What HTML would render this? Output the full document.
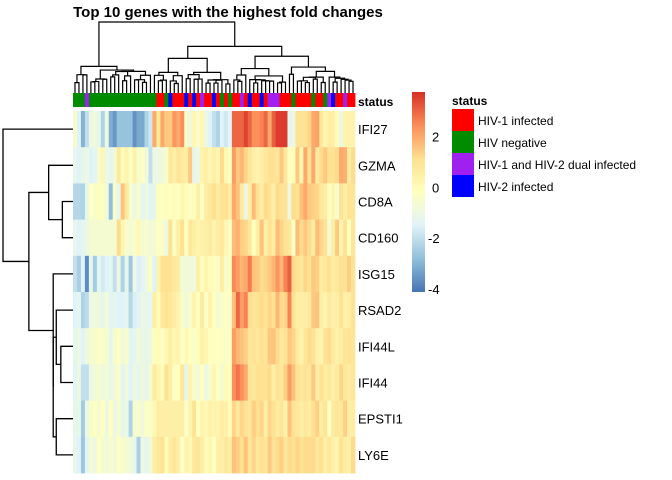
<!DOCTYPE html>
<html><head><meta charset="utf-8"><style>
body{margin:0;background:#fff;}
svg{display:block;font-family:"Liberation Sans",Arial,sans-serif;}
</style></head><body>
<svg id="chart" width="672" height="480" viewBox="0 0 672 480">
<text x="228" y="17" text-anchor="middle" font-size="15" font-weight="bold">Top 10 genes with the highest fold changes</text>
<g id="coldend"></g>
<g id="rowdend"></g>
<g id="status"></g>
<g id="cells"></g>
<g id="rlabels"></g>
<text x="358" y="106" font-size="12" font-weight="bold">status</text>
<defs><linearGradient id="cg" x1="0" y1="1" x2="0" y2="0">
<stop offset="0" stop-color="#4575B4"/><stop offset="0.1667" stop-color="#91BFDB"/><stop offset="0.3333" stop-color="#E0F3F8"/><stop offset="0.5" stop-color="#FFFFBF"/><stop offset="0.6667" stop-color="#FEE090"/><stop offset="0.8333" stop-color="#FC8D59"/><stop offset="1" stop-color="#D73027"/></linearGradient></defs>
<rect x="412" y="92" width="13" height="200" fill="url(#cg)"/>
<g id="cticks"></g>
<text x="452" y="105" font-size="12" font-weight="bold">status</text>
<g id="legend"></g>
</svg>
<script>
const genes=["IFI27","GZMA","CD8A","CD160","ISG15","RSAD2","IFI44L","IFI44","EPSTI1","LY6E"];
const statusCodes="NNNPNNNNNNNNNNNNNNNNNRRNBRRRBRBRPRRBRNRNRRPRBRRBRPPPRRRNRRRRNRRNPBRRPRR".split("");
const statusNames={R:"HIV-1 infected",N:"HIV negative",P:"HIV-1 and HIV-2 dual infected",B:"HIV-2 infected"};
const statusColors={R:"#FF0000",N:"#008B00",P:"#A020F0",B:"#0000FF"};
const legendOrder=["R","N","P","B"];
const colorTicks=[2,0,-2,-4];
const rowIFI27=[-0.5,-1.5,-3,-2,-1,-0.8,-1.2,-2.3,-1,-3.1,-3.5,-2.7,-2.7,-2.7,-2.7,-3.6,-3.2,-3.2,-2.3,-1.8,2,0.8,2,1.5,1.5,2.3,2,2.4,-0.5,-0.8,0.2,-0.4,0.1,-1,-1.5,-2,-2.3,-1.5,-1.8,-1.4,3,3,3,3.5,3,2.4,2.4,2.6,3,2,3.1,3.6,3.6,3.6,-1.3,-1,1,1,1,1.3,2,2.1,0.8,0.3,0.5,0.4,0,-1,0.3,0.3,0.3];
const rowGZMA=[-1.2,-1.5,-1.2,-1,-1.5,-1.3,-0.6,0.2,-1,-1.3,-0.8,0.8,0,0.3,-0.3,0.4,-0.5,-0.3,-0.8,-2,-1,-1,-0.8,-0.5,0.8,0.5,0.9,0.7,0.6,1.5,-1.2,-1,0.3,0.5,0.2,0.5,0.2,1.2,0.1,-0.2,2.2,1.5,1.8,1.3,0.9,0.5,0.3,0.5,0.8,1,1.1,0.9,1.5,0.8,-0.2,-0.1,1.5,0.2,2,1,2,0.7,1.2,1.5,1,1.1,1.2,2,1.9,0.6,1.2];
const rowCD8A=[-2.2,-2.2,-2.3,-1.2,-0.3,-0.5,-0.1,-0.3,-0.8,-2.8,-0.5,-1.2,1.6,0.8,-0.5,-1,-0.5,-1.3,-1,-1.4,-1.2,-0.1,-0.3,-0.1,-0.2,0,-0.2,0.2,0,-0.3,-0.1,0.5,-0.3,0.6,0.8,1.1,0.7,1,1,0.6,2,1.6,0.7,-1,0.5,1.7,1,0.5,1.2,1,0.5,1.2,1,1,-0.9,1.2,1,1.6,2,1.5,1.4,1.3,0.8,0.6,-0.2,0.2,-0.5,1,0.5,1,0.9];
const rowCD160=[-1.2,-1.5,-1.3,-1,-0.6,-0.6,-0.6,-0.6,-0.6,-0.6,-0.6,1.2,0.2,-0.5,-0.7,-0.4,0.1,-0.6,-0.5,-0.8,-0.6,-0.3,-0.4,-0.9,1,-0.3,0.5,1.1,-0.2,0.8,0.5,0.3,0.4,0.5,0.7,0.3,0.6,0.8,0.2,-0.3,1.7,1.9,1.4,1.3,0.8,-0.2,0.5,1.6,0.5,1,0.6,1.7,1.3,1,0.8,-0.3,1.7,1.2,1.5,1.2,0.6,1.7,1.3,1,-0.7,0.5,1.5,0.3,1,-0.2,0.9];
const rowISG15=[-2,-2.4,-1.5,-3.7,-1.2,-2.5,-1.3,-1.7,-1.5,-1.3,-2,-1,-2.3,-1.2,-2.6,-1,-1.6,-1.4,-1,-0.3,-1.5,0.3,1,1,1,0.8,0.6,-0.7,-0.8,-0.8,-0.8,0.5,-0.1,0.3,0,-0.1,-0.4,0.6,-0.5,-0.2,2.5,2.2,1.8,2,2.7,1.6,1.5,1.2,1.3,1.5,1.8,2.3,1.8,2.6,3.1,1.2,1,0.8,1.3,1,1.5,1.4,0.6,0.8,1.1,0.6,0.8,1.1,1,1.4,1];
const rowRSAD2=[-1.5,-1.3,-2.3,-2.1,-1,-0.8,-0.9,-1.2,-0.7,-1.4,-1.2,-1.5,-1.5,-1.3,-2.2,-1.6,-1.4,-1,-1.2,-1.3,0.5,0,0.8,1,0.8,0.6,0.3,-0.5,-0.8,-0.4,0.3,-0.2,0.7,-0.3,0.3,-0.2,-0.6,-0.4,-0.3,-0.4,1.6,3,2.2,2.6,1.2,0.9,1,1.2,1,1.3,1,1.8,1.2,1.3,2.6,1,0.5,0.5,0.6,0.7,1.5,1.6,0.5,0.3,0.7,0.4,0.5,1,0.4,0.6,1];
const rowIFI44L=[-1.2,-1,-1.5,-0.9,-0.6,-0.5,-0.3,-0.4,-0.6,-1.2,-0.5,-0.3,-0.8,-0.5,-1.4,-1.3,-0.8,-1.1,-1.2,-0.9,-0.1,0,-0.3,0.2,0.5,0.2,0.3,-0.3,0.1,-0.2,-0.4,0,0.4,0.2,-0.2,-0.3,-0.2,-0.3,-0.4,-0.2,2.2,1.8,1.6,1.4,0.9,1,0.8,1.1,0.9,1.5,1.6,1.2,0.8,1,1.5,1.3,0.7,0.3,0.9,1.2,1,0.4,0.3,1,1.2,0.7,0.4,0.6,0.9,1,0.9];
const rowIFI44=[-1.4,-1,-2,-2,-1,-0.8,-0.6,-0.9,-0.7,-1.1,-0.8,-0.4,-1.4,-0.8,-1.5,-0.9,-1.3,-0.9,-1.2,-0.6,0.7,0.3,0,1,0.5,-0.3,-0.2,0.8,-1.2,0.3,-0.5,-0.7,-0.2,-1,-0.5,0.2,-0.3,-0.6,0,-0.2,2.4,2.8,2.4,2,0.9,0.8,1.1,1,1,1.2,0.5,1,0.8,1.4,2.2,1.6,1,0.8,1,0.8,1.5,0.5,1.1,0.6,0.8,0.4,0.7,1.3,0.8,0.6,0.9];
const rowEPSTI1=[-1.2,-1.2,-2.5,-1,-0.5,-0.2,-0.6,-0.2,-1,-0.2,-1,-0.5,-1.2,-1,-2.3,-0.6,-0.5,-0.8,-0.3,-0.4,0.1,0.6,0.5,0.5,0.5,0.5,0.5,0.5,-0.4,0.3,1,-0.2,0.3,0.1,0.4,0.3,0.3,0.6,0.4,0,1.3,0.8,1.3,1,0.8,1.4,1.1,1.3,0.5,1.3,1,0.6,0.9,0.3,1.6,1,0.8,0.5,0.8,0.6,1.1,1.4,0.6,0.9,-0.3,0.7,0.9,0.8,1.4,0.5,0.6];
const rowLY6E=[-1.2,-1.5,-2.6,-1.4,-0.7,-1,-0.2,-0.6,-0.8,-0.5,-0.8,-0.3,-0.5,-0.6,-0.8,-1.2,-2.4,-1,-1.3,-0.8,0.6,0.8,1,0,0.6,0.9,0.5,-0.4,0.3,0.1,0.8,0.9,0.5,0,0.2,-0.3,0.4,0.5,0.8,0.6,1.6,1.4,1.1,1.6,0.9,1.3,0.8,1.1,0.9,1.5,1,1.2,1.4,0.8,1.2,1.1,1.3,1,1.2,1.2,1.2,0.8,1.1,0.5,0.8,0.4,0.3,1,0.6,0.5,1.2];
const values=[rowIFI27,rowGZMA,rowCD8A,rowCD160,rowISG15,rowRSAD2,rowIFI44L,rowIFI44,rowEPSTI1,rowLY6E];
// row dendrogram merges: [left, right, height]; leaves 0..9, nodes 10+
const rowMerges=[[2,3,0.35],[6,7,0.4],[8,9,0.55],[5,11,0.55],[1,10,0.8],[13,12,0.65],[4,15,0.65],[14,16,1.45],[0,17,2.3]];

const NS="http://www.w3.org/2000/svg";
const X0=73,X1=355,Y0=111,Y1=473;
const nC=statusCodes.length,nR=genes.length;
const cw=(X1-X0)/nC,rh=(Y1-Y0)/nR;
const vmin=-4.12,vmax=3.76;
const stops=["#4575B4","#91BFDB","#E0F3F8","#FFFFBF","#FEE090","#FC8D59","#D73027"].map(h=>[1,3,5].map(i=>parseInt(h.substr(i,2),16)));
function colorOf(v){let t=(v-vmin)/(vmax-vmin);t=Math.max(0,Math.min(1,t))*6;let i=Math.min(5,Math.floor(t)),f=t-i;
const c=stops[i].map((a,k)=>Math.round(a+(stops[i+1][k]-a)*f));return "rgb("+c.join(",")+")";}
const xS=j=>X0+j*cw, yS=i=>Y0+i*rh;
function mk(tag,attrs,parent){const e=document.createElementNS(NS,tag);for(const k in attrs)e.setAttribute(k,attrs[k]);parent.appendChild(e);return e;}

const cells=document.getElementById("cells");
values.forEach((row,i)=>row.forEach((v,j)=>{
  const r=mk("rect",{x:xS(j),y:yS(i),width:cw+0.4,height:rh+0.4,fill:colorOf(v)},cells);
  
  
}));
const st=document.getElementById("status");
statusCodes.forEach((s,j)=>{
  const r=mk("rect",{x:xS(j),y:93,width:cw+0.4,height:14,fill:statusColors[s]},st);
  
  
});
const rl=document.getElementById("rlabels");
genes.forEach((g,i)=>{
  const t=mk("text",{x:358,y:yS(i)+rh/2+5,"font-size":"13"},rl);t.textContent=g;
  
  
});
const ct=document.getElementById("cticks");
colorTicks.forEach(v=>{
  const y=92+(vmax-v)/(vmax-vmin)*200;
  const t=mk("text",{x:v<0?428:432,y:y+5,"font-size":"13"},ct);t.textContent=v;
  
  
});
const lg=document.getElementById("legend");
legendOrder.forEach((s,k)=>{
  const r=mk("rect",{x:452,y:109+k*22,width:22,height:22,fill:statusColors[s]},lg);
  
  
  const t=mk("text",{x:478,y:125+k*22,"font-size":"12"},lg);t.textContent=statusNames[s];
  
  
});

// row dendrogram
const rd=document.getElementById("rowdend");
const rmaxH=rowMerges[rowMerges.length-1][2];
const rpos={};for(let i=0;i<nR;i++)rpos[i]={y:yS(i)+rh/2,h:0};
const hx=h=>73-h/rmaxH*70;
rowMerges.forEach((m,k)=>{const a=rpos[m[0]],b=rpos[m[1]],h=m[2];const x=hx(h);
  const p=mk("path",{d:`M${hx(a.h)},${a.y}H${x}V${b.y}H${hx(b.h)}`,fill:"none",stroke:"#000","stroke-width":1.3},rd);
  
  
  rpos[nR+k]={y:(a.y+b.y)/2,h:h};});

// column dendrogram: order-constrained Ward linkage on the data
let cl=[];for(let j=0;j<nC;j++)cl.push({x:xS(j)+cw/2,h:0,n:1,vec:values.map(r=>r[j])});
const merges=[];
function dist(a,b){let s=0;for(let i=0;i<nR;i++){const d=a.vec[i]-b.vec[i];s+=d*d;}return Math.sqrt(s*2*a.n*b.n/(a.n+b.n));}
while(cl.length>1){let best=0,bd=1e9;for(let k=0;k<cl.length-1;k++){const d=dist(cl[k],cl[k+1]);if(d<bd){bd=d;best=k;}}
  const a=cl[best],b=cl[best+1],n=a.n+b.n;const h=Math.max(bd,a.h,b.h)+0.05;
  const c={x:(a.x+b.x)/2,h:h,n:n,vec:a.vec.map((v,i)=>(v*a.n+b.vec[i]*b.n)/n)};
  merges.push([a,b,c]);cl.splice(best,2,c);}
const cmax=cl[0].h;
const hy=h=>93-Math.pow(h/cmax,0.6)*71;
const cd=document.getElementById("coldend");
merges.forEach(([a,b,c])=>{const y=hy(c.h);
  const p=mk("path",{d:`M${a.x},${hy(a.h)}V${y}H${b.x}V${hy(b.h)}`,fill:"none",stroke:"#000","stroke-width":1.2},cd);
  
  
});
</script>
</body></html>
